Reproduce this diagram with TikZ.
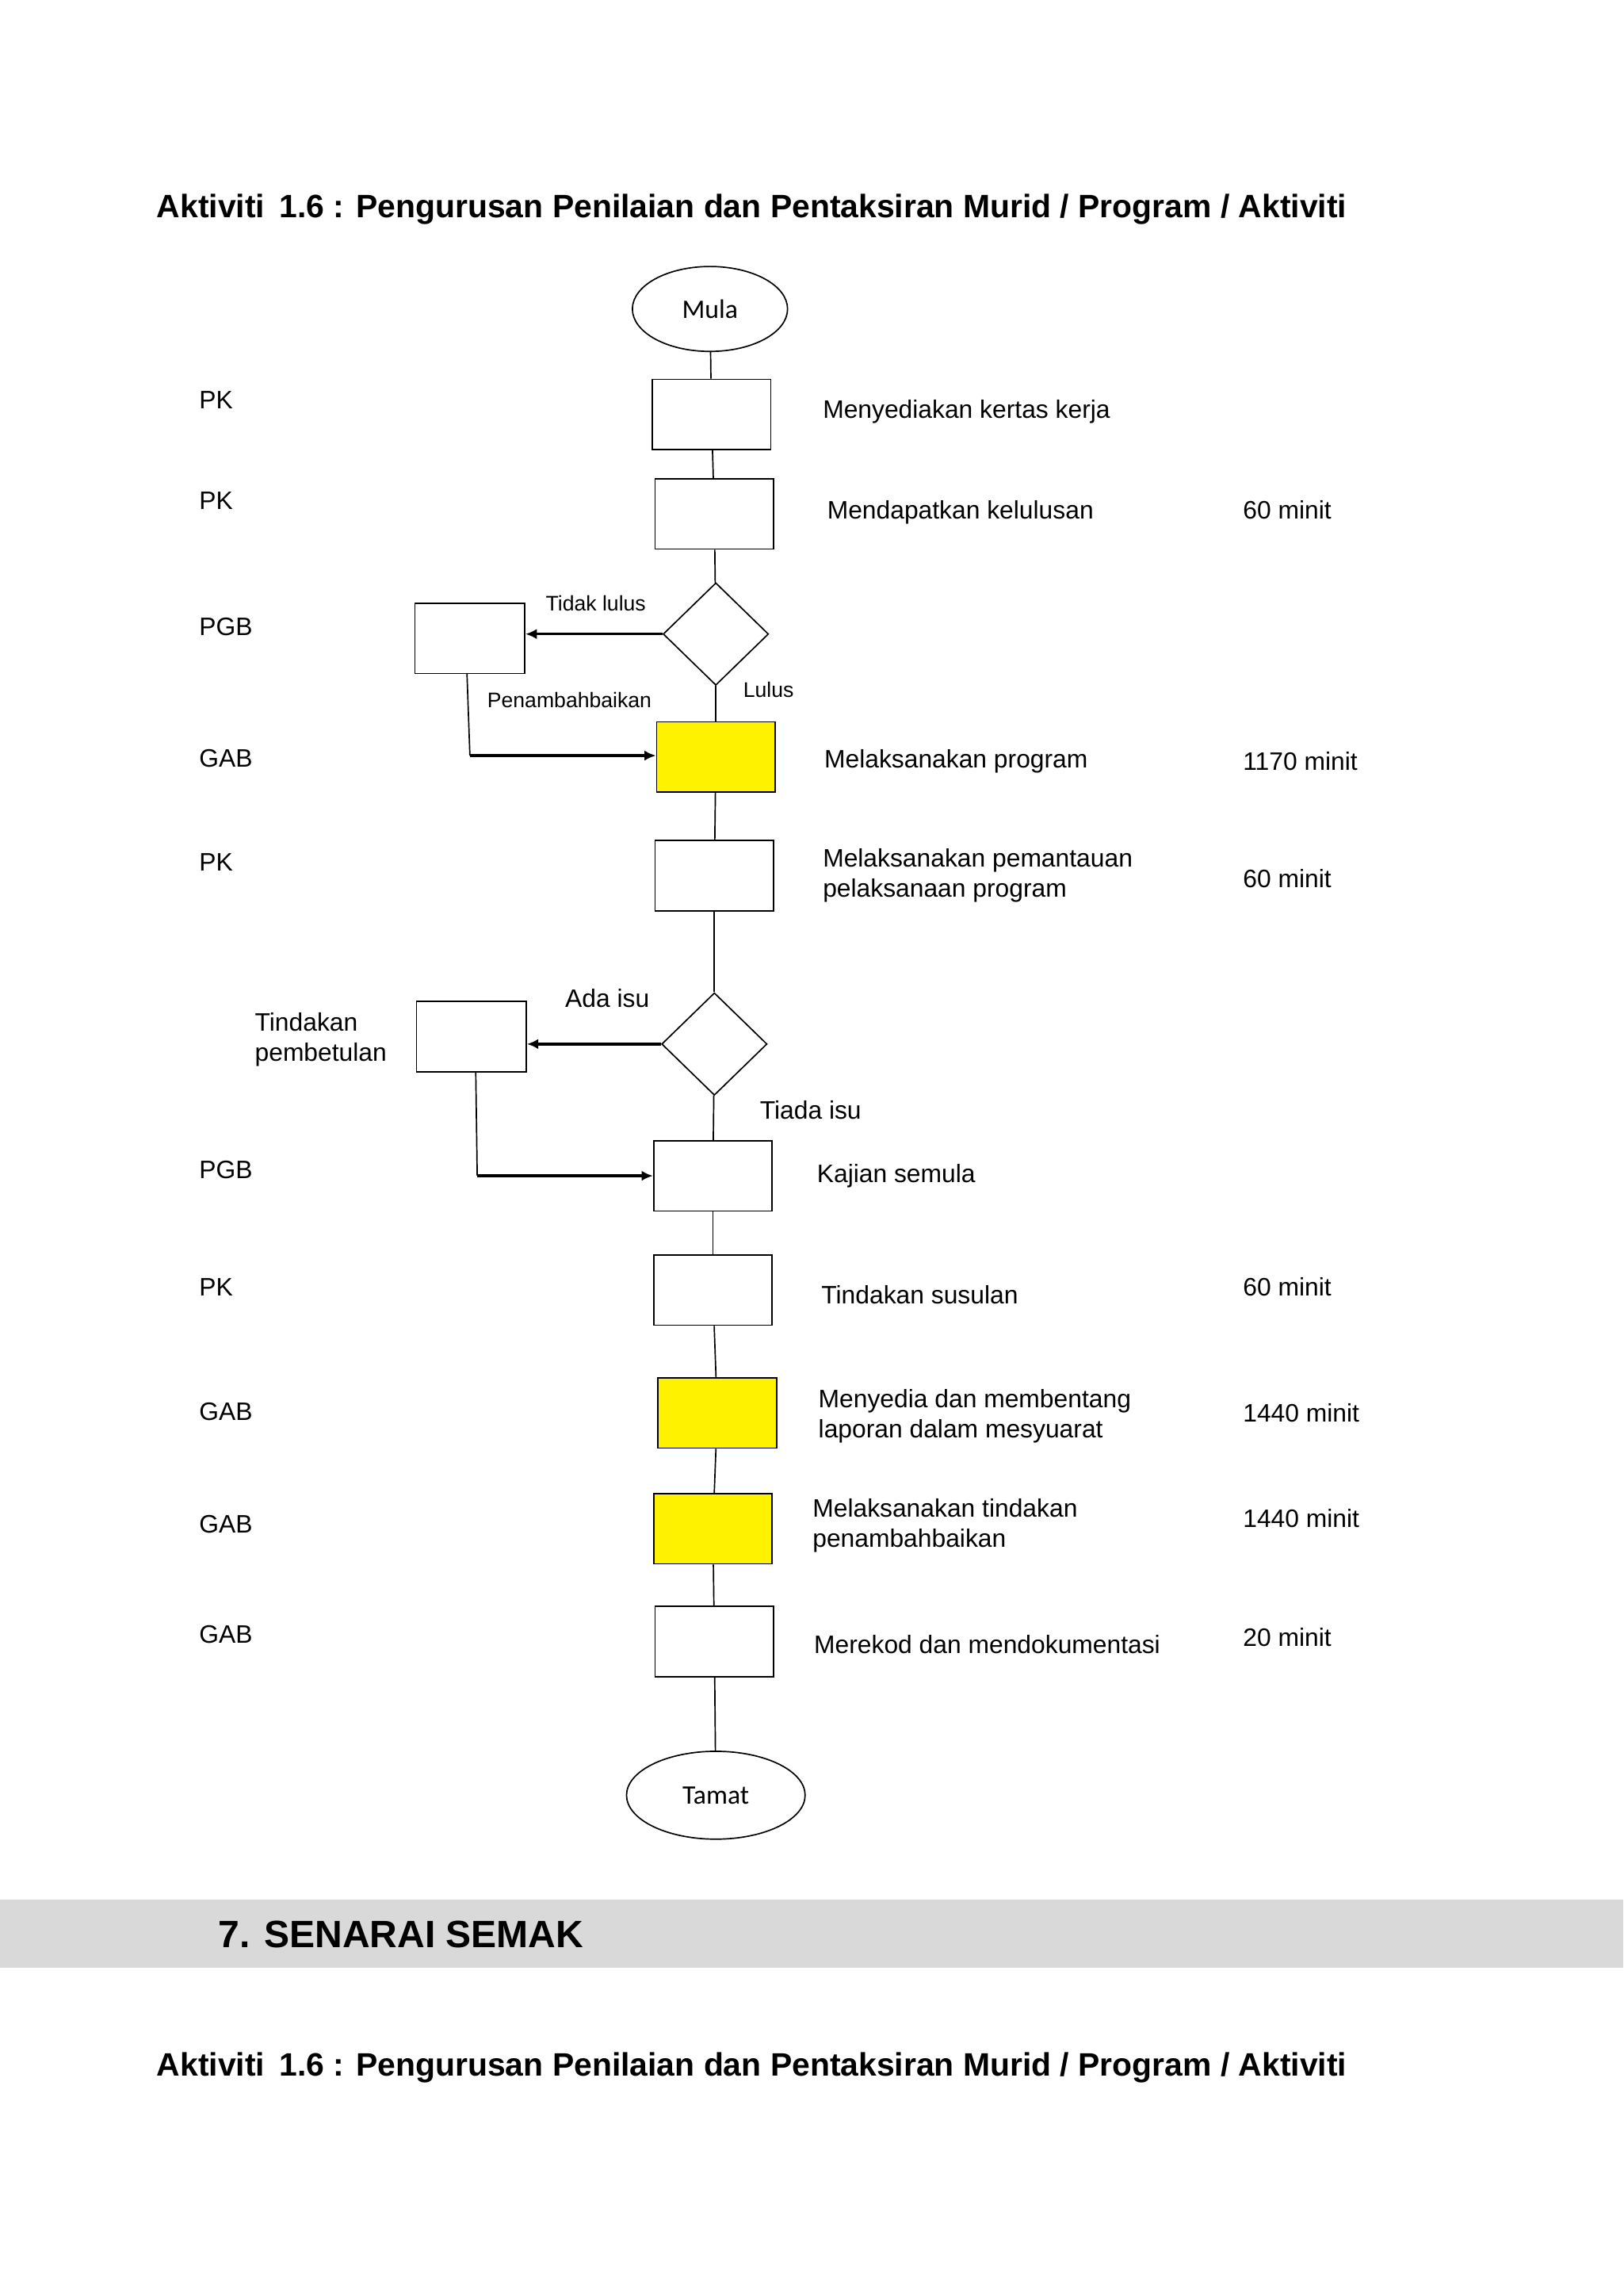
\documentclass[tikz,border=0pt]{standalone}
\usepackage{fontspec}
\setmainfont{Liberation Sans}
\newfontfamily\calib{Carlito}
\usetikzlibrary{shapes.geometric,arrows.meta}
\begin{document}
\begin{tikzpicture}[x=1.4226pt,y=-1.4226pt,
  lbl/.style={anchor=west,inner sep=0pt,font=\fontsize{24.5}{29}\selectfont,align=left},
  sml/.style={inner sep=0pt,font=\fontsize{20.5}{24}\selectfont},
  ttl/.style={anchor=west,inner sep=0pt,font=\fontsize{31.5}{34}\selectfont\bfseries},
  boxn/.style={draw,line width=1.3pt,minimum width=81*1.4226pt,minimum height=48*1.4226pt,inner sep=0pt},
  ybox/.style={boxn,fill=yellow},
  sbox/.style={draw,line width=1.3pt,minimum width=75*1.4226pt,minimum height=48*1.4226pt,inner sep=0pt},
  dia/.style={draw,line width=1.3pt,diamond,minimum width=72*1.4226pt,minimum height=70*1.4226pt,inner sep=0pt},
  term/.style={draw,line width=1.3pt,ellipse,inner sep=0pt,font=\calib\fontsize{26}{30}\selectfont},
  ln/.style={line width=1.3pt},
  arr/.style={line width=2.5pt,-{Latex[length=11pt,width=10pt]}}]
\useasboundingbox (0,0) rectangle (1109,1568);
\fill[white] (0,0) rectangle (1109,1568);
\fill[gray!30] (0,1297) rectangle (1109,1344);
\node[ttl] (t1) at (107,143) {Aktiviti\, 1.6 : Pengurusan Penilaian dan Pentaksiran Murid / Program / Aktiviti};
\node[ttl] (t2) at (107,1412) {Aktiviti\, 1.6 : Pengurusan Penilaian dan Pentaksiran Murid / Program / Aktiviti};
\node[anchor=west,inner sep=0pt,font=\fontsize{37}{40}\selectfont\bfseries] (sec) at (149,1321) {7. SENARAI SEMAK};

\node[term,minimum width=106*1.4226pt,minimum height=58*1.4226pt] (mula) at (485,211) {Mula};
\node[boxn] (b1) at (486,283) {};
\node[boxn] (b2) at (488,351) {};
\node[dia] (d1) at (489,433) {};
\node[sbox] (l1) at (321,436) {};
\node[ybox] (b3) at (489,517) {};
\node[boxn] (b4) at (488,598) {};
\node[dia] (d2) at (488,713) {};
\node[sbox] (l2) at (322,708) {};
\node[boxn] (b5) at (487,803) {};
\node[boxn] (b6) at (487,881) {};
\node[ybox] (b7) at (490,965) {};
\node[ybox] (b8) at (487,1044) {};
\node[boxn] (b9) at (488,1121) {};
\node[term,minimum width=122*1.4226pt,minimum height=60*1.4226pt] (tamat) at (489,1226) {Tamat};

\draw[ln] (mula) -- (b1); \draw[ln] (b1) -- (b2); \draw[ln] (b2) -- (d1);
\draw[ln] (d1) -- (b3); \draw[ln] (b3) -- (b4); \draw[ln] (b4) -- (d2);
\draw[ln] (d2) -- (b5); \draw[ln] (b5) -- (b6); \draw[ln] (b6) -- (b7);
\draw[ln] (b7) -- (b8); \draw[ln] (b8) -- (b9); \draw[ln] (b9) -- (tamat);
\draw[arr] (d1.west) -- (l1.east |- d1.west);
\draw[arr] (d2.west) -- (l2.east |- d2.west);
\coordinate (c1) at (321,516);
\coordinate (c2) at (326,803);
\draw[ln] (319,460) -- (c1);
\draw[arr] (c1) -- (b3.west |- c1);
\draw[ln] (325,732) -- (c2);
\draw[arr] (c2) -- (b5.west |- c2);

\node[sml] (tl) at (407,412) {Tidak lulus};
\node[sml] (pb) at (389,478) {Penambahbaikan};
\node[sml] (lu) at (525,471) {Lulus};
\node[lbl] (ai) at (386,682) {Ada isu};
\node[lbl] (ti) at (519,758) {Tiada isu};

\node[lbl] (r1) at (136,273) {PK};
\node[lbl] (r2) at (136,342) {PK};
\node[lbl] (r3) at (136,428) {PGB};
\node[lbl] (r4) at (136,518) {GAB};
\node[lbl] (r5) at (136,589) {PK};
\node[lbl] (r6) at (174,710) {Tindakan\\pembetulan};
\node[lbl] (r7) at (136,799) {PGB};
\node[lbl] (r8) at (136,879) {PK};
\node[lbl] (r9) at (136,964) {GAB};
\node[lbl] (r10) at (136,1041) {GAB};
\node[lbl] (r11) at (136,1116) {GAB};

\node[lbl] (x1) at (562,281) {Menyediakan kertas kerja};
\node[lbl] (x2) at (565,350) {Mendapatkan kelulusan};
\node[lbl] (x3) at (563,520) {Melaksanakan program};
\node[lbl] (x4) at (562,598) {Melaksanakan pemantauan\\pelaksanaan program};
\node[lbl] (x5) at (558,803) {Kajian semula};
\node[lbl] (x6) at (561,884) {Tindakan susulan};
\node[lbl] (x7) at (559,967) {Menyedia dan membentang\\laporan dalam mesyuarat};
\node[lbl] (x8) at (555,1042) {Melaksanakan tindakan\\penambahbaikan};
\node[lbl] (x9) at (556,1123) {Merekod dan mendokumentasi};

\node[lbl] (m1) at (849,348) {60 minit};
\node[lbl] (m2) at (849,520) {1170 minit};
\node[lbl] (m3) at (849,600) {60 minit};
\node[lbl] (m4) at (849,879) {60 minit};
\node[lbl] (m5) at (849,965) {1440 minit};
\node[lbl] (m6) at (849,1037) {1440 minit};
\node[lbl] (m7) at (849,1118) {20 minit};
\end{tikzpicture}
\end{document}
